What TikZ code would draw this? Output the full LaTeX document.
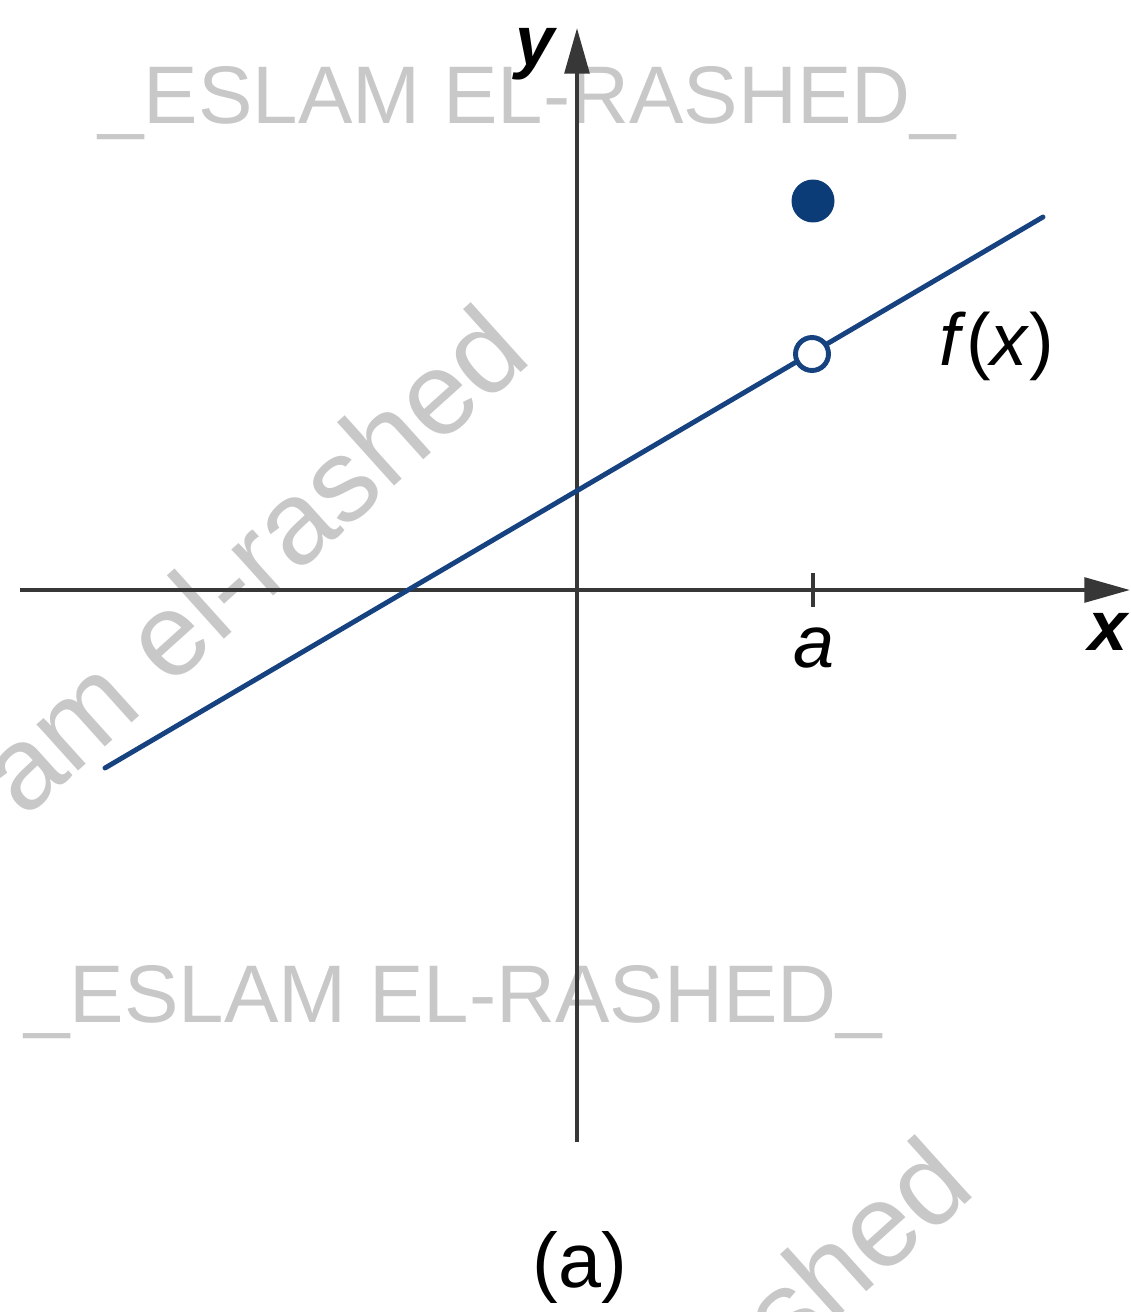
\documentclass[tikz,border=0pt]{standalone}
\usepackage{fontspec}
\setmainfont{Liberation Sans}
\usetikzlibrary{arrows.meta}
\definecolor{fblue}{RGB}{22,66,128}
\definecolor{dotblue}{RGB}{12,60,120}
\definecolor{axisgray}{RGB}{55,55,55}
\definecolor{wmgray}{RGB}{200,200,200}
\begin{document}
\begin{tikzpicture}[x=0.02cm,y=-0.02cm,
  axis/.style={draw=axisgray,line width=2.3pt},
  axarrow/.style={-{Triangle[length=26pt,width=14pt]}},
  curve/.style={draw=fblue,line width=2.8pt},
  lbl/.style={inner sep=0pt,anchor=base,text=black},
  wm/.style={inner sep=0pt,anchor=base west,text=wmgray,font=\fontsize{46.5}{50}\selectfont},
  rwm/.style={inner sep=0pt,text=wmgray,font=\fontsize{67}{70}\selectfont,rotate=42,anchor=base east},
  hole/.style={circle,draw=fblue,line width=2.8pt,fill=white,inner sep=0pt,minimum size=0.66cm},
  fdot/.style={circle,fill=dotblue,inner sep=0pt,minimum size=0.86cm}]
\useasboundingbox (0,0) rectangle (1130,1312);
% watermarks
\begin{scope}
  \clip (0,0) rectangle (1130,1312);
  \node[wm] (wm1) at (98,123) {\_ESLAM EL-RASHED\_};
  \node[wm] (wm2) at (24,1022) {\_ESLAM EL-RASHED\_};
  \node[rwm] (wm3) at (535,360) {am el-rashed};
  \node[rwm] (wm4) at (978,1192) {shed};
\end{scope}
% axes
\coordinate (xl) at (20,590);
\coordinate (xr) at (1130,590);
\coordinate (yb) at (577,1142);
\coordinate (yt) at (577,28);
\draw[axis,axarrow] (xl) -- (xr);
\draw[axis,axarrow] (yb) -- (yt);
\coordinate (t1) at (813,573);
\coordinate (t2) at (813,607);
\draw[axis] (t1) -- (t2);
% function
\coordinate (L0) at (105,768);
\coordinate (L1) at (1043,217);
\draw[curve,line cap=round] (L0) -- (L1);
\node[hole] (open) at (812,354) {};
\node[fdot] (filled) at (813,201) {};
% labels
\node[lbl,font=\fontsize{40}{44}\selectfont\bfseries\itshape] (ylab) at (535,65) {y};
\node[lbl,font=\fontsize{40}{44}\selectfont\bfseries\itshape] (xlab) at (1108,650) {x};
\node[lbl,font=\fontsize{42}{46}\selectfont\itshape] (alab) at (814,667) {a};
\node[lbl,font=\fontsize{42}{46}\selectfont] (flab) at (997,365) {\textit{f}(\textit{x})};
\node[lbl,font=\fontsize{44}{48}\selectfont] (cap) at (580,1287) {(a)};
\end{tikzpicture}
\end{document}
